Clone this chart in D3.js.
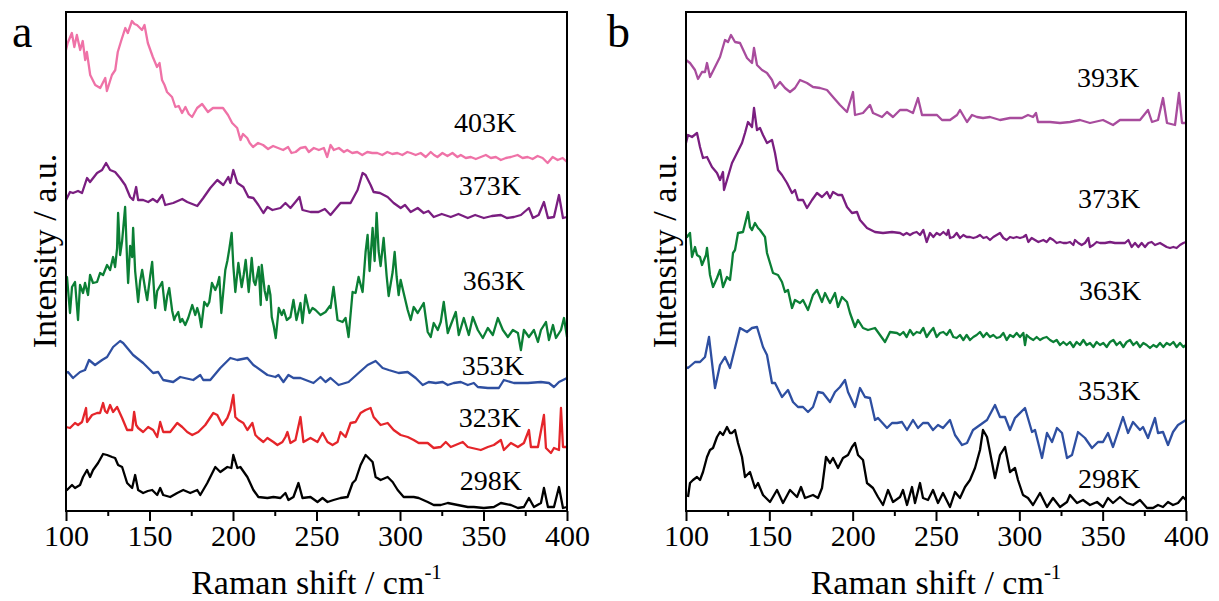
<!DOCTYPE html>
<html>
<head>
<meta charset="utf-8">
<script src="https://cdn.jsdelivr.net/npm/d3@7"></script>
<style>
    body { margin: 0; background: #fff; }
    text { font-family: "Liberation Serif", "Times New Roman", serif; fill: #000; }
</style>
</head>
<body>
<div id="wide"></div>
<script>
// Raman spectra, [shift (cm-1), intensity (a.u., offset per trace)]
const a403 = [[100,461],[101,468],[103.5,478],[105,464],[106.5,476],[108.5,461],[110,470],[111.5,451],[112.5,459],[114.5,436],[117.5,426],[120.5,423],[122,428],[123.5,433],[124.5,420],[127.5,436],[129.5,441],[131,459],[133,470],[135.5,483],[137,478],[139.5,490],[141,487],[142.5,486],[145.5,481],[147,486],[149,468],[152,454],[154.5,444],[156,448],[157.5,431],[159,426],[160.5,419],[163.5,414],[165.5,404],[167.5,405],[169.5,398],[171.5,404],[173.5,397],[175.5,394],[178.5,403],[181.5,407],[185,399],[188,403],[190.5,403],[194,403],[197,396],[199.5,388],[202.5,383],[204.5,371],[206,377],[208.5,373],[210,368],[212,364],[215,368],[218,366],[221,362],[224,365],[227,363],[230,361],[233,364],[235,358],[237.5,359],[240.4,363],[243.4,364],[245.4,359],[248.4,363],[251.4,361],[254.4,363],[256.4,354],[258.4,366],[260.4,361],[263.4,363],[266.4,359],[268.4,361],[271.4,358],[274.4,359],[277.4,356],[280.4,359],[283.4,358],[286.4,358],[289.4,356],[292.4,359],[295.4,357],[298.4,358],[301.4,356],[304.4,359],[306.4,358],[309.4,356],[312.4,358],[315.4,354],[318.4,359],[320.4,356],[322.4,354],[325.4,358],[328.4,355],[331.4,358],[334.4,354],[336.4,356],[339.4,353],[342.4,354],[345.4,352],[348.4,354],[351.4,356],[354.4,353],[357.4,354],[360.4,351],[363.4,353],[366.4,354],[370.4,356],[373.4,353],[376.4,354],[379.4,352],[382.4,355],[385.4,353],[388.4,348],[391.4,354],[394.4,351],[397.4,353],[400,349]];
const a373 = [[100,311],[102.4,319],[104.2,318],[107.2,320],[109.6,318],[112.6,333],[114.4,329],[118.6,338],[121.6,341],[124,348],[126.4,341],[129.4,339],[132.4,333],[135.4,326],[138.4,314],[140.2,311],[142,324],[143.2,311],[146.2,311],[149.2,309],[152,312],[154.6,309],[157.6,316],[159.4,306],[164.2,308],[169.6,312],[172.6,309],[178.6,305],[182.2,313],[186.4,323],[190.6,331],[194.2,326],[197.2,334],[198.4,328],[200.2,341],[202.6,328],[206.2,324],[209.2,314],[212.2,313],[215.2,306],[218.2,298],[220.6,304],[223.6,301],[228.4,303],[231.4,308],[234.4,303],[237.4,309],[239.8,314],[241.6,301],[246.4,299],[251.2,299],[255,302],[258.4,296],[264.4,308],[270.4,308],[274.6,321],[277.6,338],[279.4,336],[282.4,326],[284.2,319],[288,318],[292.6,314],[296.2,308],[300.4,303],[303,306],[306.4,299],[310.6,303],[314.2,298],[317,300],[320.2,294],[325,297],[330.4,294],[335,297],[340.6,293],[345,296],[350.2,293],[355,295],[360.4,296],[364,293],[368.2,294],[372.4,296],[377.2,303],[379.6,293],[383,296],[386.2,309],[388.6,293],[392.2,294],[395.2,316],[397.6,293],[400,294]];
const a363 = [[100,232],[100.6,234],[102.4,198],[103.6,224],[105.4,229],[107.2,191],[108.4,226],[110.2,218],[111.4,228],[113.2,216],[114.4,236],[116.2,228],[118.6,229],[120.4,238],[122.2,236],[124.6,246],[126.4,241],[128.2,254],[129.4,244],[130.6,263],[131.2,298],[132.4,256],[133.6,270],[135.4,304],[136.6,250],[137.2,228],[138.4,265],[139.6,254],[140.2,283],[141.4,240],[143.2,209],[144.4,230],[145.6,241],[147.4,222],[148.6,211],[150.4,235],[151.6,249],[153.4,203],[154.6,220],[157.6,229],[159.4,201],[160.6,215],[161.8,223],[163.6,200],[164.8,191],[165.4,194],[167.2,199],[168.4,189],[169.6,192],[171.4,186],[173.2,193],[175.6,206],[177.4,196],[178.6,203],[179.8,196],[181,184],[182.8,209],[184.6,205],[185.8,209],[187.4,228],[189.4,221],[190.6,226],[191.8,234],[193,198],[195.4,241],[196.6,250],[197.8,262],[199.2,278],[200.2,245],[201.4,219],[203.2,248],[205.2,224],[206.4,236],[207.6,251],[209.4,219],[211.2,253],[212.4,230],[213.4,226],[215.4,244],[216.6,206],[217.2,246],[219,220],[220.2,211],[221.4,225],[222.4,216],[223.2,194],[224.4,185],[225.6,173],[227.4,203],[229.2,196],[230.4,201],[232.2,191],[234.4,194],[236.2,211],[238,191],[240.4,208],[241.6,188],[243.4,216],[245.8,198],[247.6,203],[249.4,201],[252.4,196],[255.4,199],[258,205],[258.4,203],[260.2,224],[262.6,191],[265.6,189],[267.4,193],[269.2,174],[271.6,219],[273.4,218],[275.2,234],[277.6,219],[279.4,259],[280.6,276],[281.8,240],[283.6,283],[284.8,250],[286,298],[287.2,260],[288.4,245],[290.2,273],[292,235],[293.2,215],[295.6,239],[296.8,259],[298,234],[299.2,216],[300.4,231],[302.2,218],[304.6,201],[306.4,191],[308.2,204],[310.6,198],[312.4,203],[314.2,208],[316.6,179],[318.4,174],[320.2,188],[322.6,181],[324.4,189],[326.2,209],[328.6,178],[330.4,186],[333.4,199],[335.2,176],[338.2,193],[341.2,176],[343.6,194],[346.6,181],[349.6,173],[352.6,183],[355.6,176],[358.6,193],[361.6,181],[364.6,174],[367.6,181],[370.6,178],[372.4,161],[374.2,181],[377.2,174],[380.2,181],[382.6,169],[384.4,181],[387.4,189],[389.2,171],[391.6,186],[393.4,173],[396.4,181],[398.2,193],[400,174]];
const a353 = [[100,138],[101.2,139],[104.2,133],[108.4,139],[111.4,141],[113.8,151],[117.4,146],[121.6,151],[124.6,154],[128.2,164],[132.4,170],[134.2,168],[140.2,156],[146.2,148],[152.2,138],[155.2,139],[158.2,131],[164.2,129],[168.4,134],[176.2,131],[180.4,136],[182.2,131],[186.4,131],[192.4,143],[198.4,153],[202.6,151],[208.6,153],[212.2,146],[220.6,136],[225.4,134],[227.2,136],[230.2,129],[233.2,136],[236.2,133],[240.4,133],[248.2,128],[252.4,134],[255.4,129],[258.4,133],[263.2,126],[269.2,129],[275.2,138],[280.6,146],[285.4,150],[289.6,143],[293.2,141],[299.2,138],[304.6,139],[309.4,133],[313.6,126],[317.2,129],[321.4,128],[325.6,129],[328.6,126],[332.2,128],[336.4,129],[340.6,126],[344.2,128],[346.6,124],[352.6,123],[359.2,123],[362.2,131],[368.2,128],[376.6,128],[384.4,129],[389.2,128],[392.2,124],[395.2,129],[400,133]];
const a323 = [[100,84],[102.4,83],[105.4,88],[107.2,86],[109.6,89],[112,103],[112.6,89],[115.6,96],[118.6,98],[120.4,98],[122.2,108],[123.4,100],[124.6,98],[126.4,106],[128.2,99],[130.6,104],[133.6,93],[136.6,81],[139.6,81],[140.8,99],[142,86],[143.2,83],[146.2,79],[149.2,84],[152.2,81],[154.6,74],[156.4,89],[158.2,79],[162.4,79],[166.6,88],[169.6,84],[172.6,79],[175.6,76],[179.2,79],[183.4,86],[188.2,98],[190.6,96],[193.6,86],[196.6,93],[198.4,101],[200.2,116],[201.4,94],[203.2,91],[206.2,88],[208.6,81],[211.6,88],[213.4,76],[215.2,73],[218.2,69],[220.6,73],[224.2,69],[226.6,66],[229.6,69],[231.4,74],[232.6,79],[234.4,68],[237.4,71],[240.4,94],[242.2,69],[246.4,73],[250.6,69],[253.6,78],[256.6,69],[259.6,66],[262.6,69],[264.4,79],[267.4,74],[270.4,88],[273.4,89],[276.4,98],[279.4,101],[282.4,103],[284.2,94],[288.4,86],[292.6,88],[296.2,81],[300.4,76],[304.6,74],[308.2,71],[311.2,68],[316.6,68],[320.2,63],[324.4,64],[327.4,69],[330.4,64],[337.6,69],[340.6,64],[348.4,61],[352.6,64],[356.2,66],[360.4,71],[362.2,61],[366.4,68],[370.6,64],[374.2,68],[377.2,81],[378.4,64],[382.6,64],[386.2,96],[387.4,63],[390.4,58],[392.2,63],[395.2,61],[396.4,103],[397.6,64],[400,64]];
const a298 = [[100,22],[100.6,21],[102.4,24],[103.6,26],[105.4,23],[108.4,26],[110.2,34],[112.6,41],[114.4,34],[116.2,41],[119.2,48],[122.2,57],[124.6,56],[127.6,54],[129.4,53],[131.2,46],[133.6,44],[136.6,28],[139.6,23],[141.4,36],[143.2,21],[146.2,18],[149,20],[151.6,21],[154.6,16],[156.4,23],[158.2,16],[162.4,14],[166.6,18],[170.2,21],[174.4,18],[178.6,21],[180.4,16],[184.6,28],[189.4,44],[192.4,39],[196.6,44],[199,43],[200.2,56],[202.6,43],[204.4,44],[208.6,34],[212.2,21],[215.2,14],[220.6,13],[224.2,14],[228.4,13],[231.4,18],[233.2,11],[236.2,14],[239.2,28],[241.6,13],[246.4,14],[250.6,9],[253.6,13],[256.6,9],[260.2,11],[264.4,13],[268.6,14],[271.6,28],[273.4,31],[276.4,46],[279.4,56],[281.2,53],[283.6,49],[285.4,34],[288.4,31],[292.6,34],[295.6,29],[298.6,21],[302.2,14],[308.2,14],[311.2,13],[316.6,9],[320.2,6],[324.4,6],[328.6,8],[334.6,6],[340.6,4],[344.2,4],[350.2,3],[356.2,4],[360.4,8],[366.4,6],[370.6,3],[374.2,4],[377.2,13],[380.2,4],[384.4,8],[386.2,23],[388.6,4],[392.2,4],[395.2,24],[397.6,3],[400,4]];

const b393 = [[100,451],[102.4,448],[105.4,441],[107.2,432],[109.6,439],[111.4,439],[112.6,448],[114.4,434],[117.4,444],[120.4,454],[123.4,471],[125.2,469],[127,476],[129.4,469],[132.4,468],[136.6,453],[139.6,448],[140.8,463],[142.6,446],[145.6,441],[148.6,438],[151.6,431],[153.4,423],[156.4,429],[159.4,423],[162.4,419],[165.4,423],[168.4,431],[172.6,428],[176.2,424],[180.4,423],[184.6,421],[188.2,414],[192.4,406],[196.6,399],[198.4,409],[200.2,419],[201.4,396],[206.2,398],[210.4,406],[212.2,398],[217.6,394],[220.6,399],[224.2,394],[228.4,401],[232.6,401],[236.2,398],[239.2,413],[241.6,396],[246.4,396],[250.6,396],[253.6,391],[258.4,391],[262.6,396],[264.4,401],[268.6,389],[271.6,396],[274.6,394],[278.2,393],[282.4,394],[288.4,391],[294.4,393],[301.6,393],[305.2,396],[308.2,394],[310,398],[311.2,389],[318.4,389],[324.4,388],[330.4,389],[336.4,391],[342.4,388],[350.2,391],[356.2,386],[360.4,391],[366.4,391],[372.4,391],[377.2,401],[379.6,389],[383.2,391],[386.2,413],[388.6,388],[393.4,386],[395.8,418],[397.6,388],[400,388]];
const b373 = [[100,368],[101.2,376],[103.6,374],[106.6,378],[108.4,364],[110.2,353],[112.6,354],[115.6,344],[118.6,338],[120.4,331],[122.2,339],[122.8,321],[124.6,331],[127.6,348],[130.6,358],[133.6,368],[135.4,378],[137.2,389],[139.6,384],[140.8,403],[142.6,381],[144.4,383],[146.2,376],[148.6,368],[151.6,371],[153.4,358],[155.2,341],[157.6,336],[160.6,328],[163.6,318],[165.4,321],[167.2,311],[170.2,311],[172.6,303],[175.6,311],[178.6,318],[181.6,314],[184.6,319],[186.4,313],[188.2,319],[191.2,316],[193.6,316],[196.6,304],[199.6,298],[202.6,299],[204.4,291],[208.6,283],[213.4,279],[218.2,278],[223.6,279],[228.4,278],[230.4,276],[232.4,278],[234.4,276],[236.4,278],[238.4,279],[240.4,276],[242.4,281],[244.4,269],[246.4,278],[248.4,274],[250.4,278],[252.4,276],[254.4,279],[256.4,276],[257.4,281],[258.4,273],[260.4,274],[262.4,278],[264.4,273],[266.4,276],[268.4,274],[270.4,274],[272.4,273],[274.4,274],[276.4,276],[278.4,273],[280.4,274],[282.4,271],[284.4,274],[286.4,276],[288.4,278],[290.4,273],[292.4,271],[294.4,274],[296.4,273],[298.4,274],[300.4,273],[302.4,274],[304,276],[305.4,269],[307.4,273],[309.4,271],[311.4,269],[314.4,271],[316.4,269],[318.4,273],[320.4,271],[322.4,268],[324.4,269],[326.4,268],[328.4,268],[330.4,269],[332.4,266],[333.4,271],[335.4,268],[337.4,266],[339.4,268],[341.4,273],[342.4,264],[344.4,266],[346.4,269],[348.4,268],[351.4,268],[354.4,269],[357.4,268],[360.4,268],[363.4,268],[365.4,271],[367.4,264],[369.4,268],[371.4,264],[373.4,268],[375.4,264],[377.4,268],[379.4,269],[381.4,266],[384.4,268],[386.4,266],[388.4,264],[390.4,263],[392.4,264],[394.4,263],[396.4,266],[398.4,268],[400,269]];
const b363 = [[100,276],[100.6,274],[102.4,278],[103.6,254],[105.4,264],[106.6,256],[108.4,254],[109.6,246],[112,256],[112.6,263],[114.4,236],[116.2,224],[118.6,233],[120.4,241],[122.2,224],[124.6,234],[126.4,231],[127.6,248],[128.2,258],[129.4,261],[131.2,278],[134.2,279],[137.2,299],[138.4,284],[139.6,281],[141.4,288],[143.2,283],[144.4,281],[147.4,274],[148.6,258],[150.4,248],[152.2,238],[155.2,236],[157.6,229],[159.4,219],[161.2,221],[163.6,203],[165.4,211],[168.4,208],[170.2,211],[173.2,201],[176.2,216],[178.6,221],[181.6,209],[183.4,218],[186.4,208],[189.4,218],[191.2,204],[193.6,214],[196.6,209],[198.4,198],[201.4,184],[203.2,191],[206.2,183],[209.2,181],[213.4,183],[216.4,176],[219.4,169],[222.4,179],[226.6,178],[228.4,176],[230.4,179],[232.4,174],[234.4,181],[236.4,176],[238.4,179],[240.4,178],[242.4,183],[244.4,174],[246.4,179],[248.4,183],[250.4,174],[252.4,178],[254.4,179],[256.4,176],[258.4,181],[260.4,174],[262.4,173],[264.4,176],[266.4,171],[268.4,176],[270.4,171],[272.4,174],[274.4,176],[276.4,179],[278.4,174],[280.4,178],[282.4,174],[284.4,176],[286.4,173],[288.4,174],[290.4,178],[292.4,171],[294.4,176],[296.4,174],[298.4,178],[300.4,174],[302.4,178],[303.4,166],[304.4,176],[306.4,173],[308.4,171],[310.4,174],[312.4,171],[314.4,173],[316.4,174],[318.4,171],[320.4,169],[322.4,171],[324.4,166],[326.4,169],[328.4,166],[330.4,169],[332.4,164],[334.4,169],[336.4,166],[338.4,171],[340.4,166],[342.4,168],[344.4,164],[346.4,169],[348.4,166],[350.4,168],[352.4,164],[354.4,169],[356.4,171],[358.4,166],[360.4,169],[362.4,164],[364.4,169],[366.4,171],[368.4,166],[370.4,169],[372.4,164],[374.4,168],[376.4,166],[378.4,163],[380.4,166],[382.4,164],[384.4,168],[386.4,164],[388.4,168],[390.4,166],[392.4,169],[394.4,164],[396.4,168],[398.4,164],[400,166]];
const b353 = [[100,144],[101.2,143],[105.4,149],[108.4,149],[111.4,154],[113.8,174],[117.4,123],[120.4,146],[123.4,154],[126.4,143],[132.4,183],[136.6,179],[139.6,183],[142.6,184],[146.2,164],[148.6,156],[151.6,128],[153.4,128],[157.6,114],[161.2,121],[164.2,109],[167.2,104],[170.2,104],[173.2,99],[176.2,104],[179.2,119],[182.2,118],[186.4,109],[189.4,119],[192.4,124],[195.4,131],[197.2,119],[201.4,104],[204.4,123],[207.4,114],[210.4,113],[213.4,91],[215.2,93],[220.6,83],[223.6,88],[226.6,88],[229.6,89],[232.6,81],[236.2,91],[239.2,83],[242.2,88],[245.2,88],[248.2,81],[251.2,86],[254.2,83],[258.4,91],[261.4,76],[265.6,66],[268.6,68],[272.2,81],[276.4,86],[280.6,91],[285.4,106],[288.4,94],[291.4,94],[294.4,81],[297.4,93],[303.4,103],[307.6,79],[309.4,81],[313.6,53],[316.6,78],[319.6,69],[322.6,83],[325.6,78],[328.6,53],[331.6,56],[335.2,79],[339.4,73],[343.6,63],[347.2,69],[350.2,69],[353.2,78],[356.2,64],[362.2,94],[365.2,78],[368.2,89],[372.4,81],[374.2,84],[377.2,73],[381.4,93],[383.2,78],[386.2,79],[389.2,66],[392.2,79],[395.2,86],[400,91]];
const b298 = [[101.2,14],[102.4,28],[104.2,31],[106.6,34],[108.4,31],[110.2,39],[112.6,54],[114.4,61],[116.2,63],[118.6,74],[120.4,79],[122.2,76],[124.6,84],[126.4,78],[127.6,78],[129.4,81],[131.2,68],[133.6,54],[135.4,34],[138.4,39],[141.4,23],[143.2,28],[146.2,16],[150.4,9],[154.6,21],[158.2,8],[162.4,21],[166.6,14],[169,24],[171.4,13],[176.2,16],[179.2,13],[181.6,23],[184,54],[186.4,48],[188.2,53],[191.2,43],[194.2,53],[197.2,56],[199.6,64],[201.4,68],[203.2,56],[206.2,51],[208.6,28],[212.2,23],[215.2,14],[218.2,6],[221.2,21],[224.2,9],[228.4,14],[230.2,21],[232.6,6],[235.6,24],[237.4,8],[240.4,28],[242.2,13],[245.2,11],[248.2,21],[251.2,8],[254.2,18],[258.4,4],[261.4,19],[264.4,13],[267.4,24],[270.4,31],[273.4,43],[276.4,61],[278.2,81],[280.6,74],[281.8,64],[285.4,33],[288.4,56],[291.4,64],[294.4,39],[297.4,43],[299.2,31],[302.2,16],[305.2,13],[308.2,6],[312.4,18],[316.6,4],[320.2,13],[324.4,4],[328.6,9],[330.4,16],[334.6,8],[338.2,11],[342.4,6],[346.6,9],[350.2,4],[353.2,13],[356.2,8],[360.4,14],[364.6,8],[368.2,6],[372.4,11],[376.6,3],[380.2,3],[383.2,6],[386.2,4],[389.2,9],[392.2,6],[395.2,8],[398.2,14],[400,11]];

const seriesA = [a403, a373, a363, a353, a323, a298];
const seriesB = [b393, b373, b363, b353, b298];
const namesA = ["403K", "373K", "363K", "353K", "323K", "298K"];
const namesB = ["393K", "373K", "363K", "353K", "298K"];
const xTicks = [100, 150, 200, 250, 300, 350, 400];
const xMinor = [125, 175, 225, 275, 325, 375];

// styles and layout (kept apart from the data)
const coloursA = ["#ef72a7", "#7a1e80", "#0b7f35", "#2e4fa1", "#e5252a", "#000000"];
const coloursB = ["#a84c9d", "#7a1e80", "#0b7f35", "#2e4fa1", "#000000"];
// label anchors in data units [shift, intensity]
const labelAtA = [[332.4, 379], [335.2, 316], [337.6, 221], [337, 136], [335.2, 84], [335.8, 21]];
const labelAtB = [[334.6, 424], [335.2, 303], [335.8, 211], [335.2, 111], [335.2, 23]];

const params = {
    width: 1219, height: 601,
    top: 12, bottom: 511,
    a: { left: 66, right: 567, letter: "a", letterX: 12 },
    b: { left: 686, right: 1186, letter: "b", letterX: 607 }
};

let svg = d3.select("#wide")
    .append("svg")
    .attr("width", params.width)
    .attr("height", params.height);

function make_panel(p, series, names, colours, labelAt) {

    const x = d3.scaleLinear()
        .domain([100, 400])
        .range([p.left, p.right]);

    const y = d3.scaleLinear()
        .domain([0, 499])
        .range([params.bottom, params.top]);

    let g = svg.append("g");

    // Spectra
    var line = d3.line()
        .x(d => x(d[0]))
        .y(d => y(d[1]));

    g.selectAll("path.trace")
        .data(series)
        .enter().append("path")
        .attr("class", "trace")
        .attr("d", line)
        .attr("fill", "none")
        .attr("stroke", (d, i) => colours[i])
        .attr("stroke-width", 2.3)
        .attr("stroke-linejoin", "round");

    // Temperature labels
    g.selectAll("text.temp")
        .data(names)
        .enter().append("text")
        .attr("class", "temp")
        .attr("x", (d, i) => x(labelAt[i][0]))
        .attr("y", (d, i) => y(labelAt[i][1]))
        .attr("font-size", 28)
        .text(d => d);

    // Frame
    g.append("rect")
        .attr("x", p.left)
        .attr("y", params.top)
        .attr("width", p.right - p.left)
        .attr("height", params.bottom - params.top)
        .attr("fill", "none")
        .attr("stroke", "#000")
        .attr("stroke-width", 2);

    // Bottom axis, ticks outward
    let axis = g.append("g")
        .attr("transform", "translate(0," + params.bottom + ")")
        .call(d3.axisBottom(x).tickValues(xTicks).tickSize(10).tickPadding(4).tickFormat(d3.format("d")));
    axis.select(".domain").remove();
    axis.selectAll("line").attr("stroke-width", 2);
    axis.selectAll("text")
        .attr("font-size", 30)
        .attr("font-family", "'Liberation Serif', 'Times New Roman', serif")
        .attr("fill", "#000");

    g.append("g")
        .attr("transform", "translate(0," + params.bottom + ")")
        .call(d3.axisBottom(x).tickValues(xMinor).tickSize(5).tickFormat(""))
        .call(s => s.select(".domain").remove())
        .selectAll("line").attr("stroke-width", 2);

    // X title with superscript
    let xt = g.append("text")
        .attr("x", (p.left + p.right) / 2)
        .attr("y", 594)
        .attr("text-anchor", "middle")
        .attr("font-size", 34);
    xt.append("tspan").text("Raman shift / cm");
    xt.append("tspan").attr("dy", -15).attr("font-size", 21).text("-1");

    // Y title
    g.append("text")
        .attr("transform", "translate(" + (p.left - 10) + "," + 251 + ") rotate(-90)")
        .attr("text-anchor", "middle")
        .attr("font-size", 34)
        .text("Intensity  / a.u.");

    // Panel letter
    g.append("text")
        .attr("x", p.letterX)
        .attr("y", 47)
        .attr("font-size", 46)
        .text(p.letter);
}

make_panel(params.a, seriesA, namesA, coloursA, labelAtA);
make_panel(params.b, seriesB, namesB, coloursB, labelAtB);
</script>
</body>
</html>
